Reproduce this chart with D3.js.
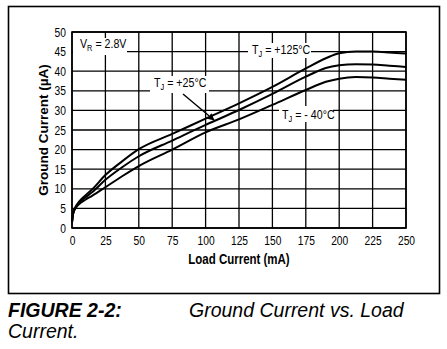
<!DOCTYPE html>
<html>
<head>
<meta charset="utf-8">
<script src="https://cdn.jsdelivr.net/npm/d3@7"></script>
<style>
  html, body { margin: 0; padding: 0; background: #fff; }
  svg { display: block; }
  text { font-family: "Liberation Sans", Arial, sans-serif; }
</style>
</head>
<body>
<svg id="chart" width="447" height="349"></svg>
<script>
// Load current (mA) sample points along each curve
const loadCurrent = [0, 1, 3, 5, 10, 15, 25, 37.5, 50, 75, 100, 125, 150, 175, 190, 200, 212.5, 225, 237.5, 250];
// Ground current (µA) at each junction temperature
const groundTj125 = [1.5, 4.0, 5.6, 6.6, 8.3, 9.8, 13.5, 17.0, 20.1, 24.0, 27.9, 31.8, 36.0, 40.7, 43.3, 44.6, 45.0, 45.0, 44.8, 44.5];
const groundTj25  = [1.5, 3.9, 5.4, 6.3, 7.8, 9.1, 12.3, 15.5, 18.3, 22.3, 26.3, 30.1, 34.2, 38.6, 40.8, 41.5, 41.8, 41.7, 41.4, 41.1];
const groundTjM40 = [1.5, 3.8, 5.2, 6.0, 7.2, 8.2, 10.4, 13.2, 15.8, 20.0, 24.4, 27.7, 31.4, 35.2, 37.3, 38.1, 38.5, 38.4, 38.1, 37.8];

const xTicks = [0, 25, 50, 75, 100, 125, 150, 175, 200, 225, 250];
const yTicks = [0, 5, 10, 15, 20, 25, 30, 35, 40, 45, 50];

const series = [groundTj125, groundTj25, groundTjM40];

const svg = d3.select("#chart");
const plot = { left: 72, right: 406, top: 32, bottom: 228 };
const condense = 0.82;   // horizontal squeeze for the narrow lettering

const x = d3.scaleLinear().domain([0, 250]).range([plot.left, plot.right]);
const y = d3.scaleLinear().domain([0, 50]).range([plot.bottom, plot.top]);

// outer frame
svg.append("rect")
  .attr("x", 8.5).attr("y", 6.5).attr("width", 431).attr("height", 287)
  .attr("fill", "none").attr("stroke", "#000").attr("stroke-width", 1.6);

// grid
const grid = svg.append("g").attr("stroke", "#000").attr("stroke-width", 1.3);
grid.selectAll("line.v").data(xTicks).join("line")
  .attr("x1", d => x(d)).attr("x2", d => x(d))
  .attr("y1", plot.top).attr("y2", plot.bottom);
grid.selectAll("line.h").data(yTicks).join("line")
  .attr("x1", plot.left).attr("x2", plot.right)
  .attr("y1", d => y(d)).attr("y2", d => y(d));

// axes: tick labels only, no tick marks
const xAxis = d3.axisBottom(x).tickValues(xTicks).tickSize(0).tickPadding(0);
const gx = svg.append("g").attr("transform", `translate(0,${plot.bottom + 8})`).call(xAxis);
gx.select(".domain").remove();
gx.selectAll("text").attr("font-size", 12.5).attr("fill", "#000")
  .attr("font-family", "Liberation Sans, Arial, sans-serif")
  .attr("transform", `scale(${condense},1)`);

const yAxis = d3.axisLeft(y).tickValues(yTicks).tickSize(0).tickPadding(0);
const gy = svg.append("g").attr("transform", `translate(${plot.left - 6},0)`).call(yAxis);
gy.select(".domain").remove();
gy.selectAll("text").attr("font-size", 12.5).attr("fill", "#000")
  .attr("font-family", "Liberation Sans, Arial, sans-serif")
  .attr("transform", `scale(${condense},1)`);

// plot border
svg.append("rect")
  .attr("x", plot.left).attr("y", plot.top)
  .attr("width", plot.right - plot.left).attr("height", plot.bottom - plot.top)
  .attr("fill", "none").attr("stroke", "#000").attr("stroke-width", 1.6);

// curves
const line = d3.line()
  .x((d, i) => x(loadCurrent[i]))
  .y(d => y(d))
  .curve(d3.curveMonotoneX);
svg.append("g").selectAll("path").data(series).join("path")
  .attr("d", line)
  .attr("fill", "none").attr("stroke", "#000").attr("stroke-width", 2);

// labels with white backing over the grid
function label(px, py, main, sub, rest, gap) {
  svg.append("rect")
    .attr("x", gap[0]).attr("y", gap[1]).attr("width", gap[2]).attr("height", gap[3])
    .attr("fill", "#fff");
  const t = svg.append("text")
    .attr("transform", `translate(${px},${py}) scale(${condense},1)`)
    .attr("font-size", 13).attr("fill", "#000");
  t.append("tspan").text(main);
  t.append("tspan").attr("font-size", 9).attr("dy", 2.5).text(sub);
  t.append("tspan").attr("dy", -2.5).text(rest);
}
label(80, 48, "V", "R", " = 2.8V", [73, 38, 54, 17]);
label(252, 54, "T", "J", " = +125°C", [248, 43, 63, 15]);
label(154, 87, "T", "J", " = +25°C", [150, 76, 59, 17]);
label(282, 119, "T", "J", " = - 40°C", [279, 106, 54, 16]);

// arrow to the +25°C curve
svg.append("defs").append("marker")
  .attr("id", "arrowHead").attr("viewBox", "0 0 10 10")
  .attr("refX", 9).attr("refY", 5)
  .attr("markerWidth", 7).attr("markerHeight", 7)
  .attr("markerUnits", "userSpaceOnUse")
  .attr("orient", "auto")
  .append("path").attr("d", "M0,0 L10,5 L0,10 Z").attr("fill", "#000");
svg.append("line")
  .attr("x1", 183).attr("y1", 94).attr("x2", 214).attr("y2", 120)
  .attr("stroke", "#000").attr("stroke-width", 1.4)
  .attr("marker-end", "url(#arrowHead)");

// axis titles
svg.append("text")
  .attr("transform", `translate(${(plot.left + plot.right) / 2},264) scale(${condense},1)`)
  .attr("text-anchor", "middle").attr("font-size", 14).attr("font-weight", "bold")
  .text("Load Current (mA)");
svg.append("text")
  .attr("transform", `translate(48,${(plot.top + plot.bottom) / 2}) rotate(-90)`)
  .attr("text-anchor", "middle").attr("font-size", 13.5).attr("font-weight", "bold")
  .text("Ground Current (µA)");

// figure caption
const cap = svg.append("text").attr("font-size", 19.5).attr("fill", "#000");
cap.append("tspan").attr("x", 8).attr("y", 317)
  .attr("font-weight", "bold").attr("font-style", "italic").text("FIGURE 2-2:");
cap.append("tspan").attr("x", 189).attr("y", 317)
  .attr("font-style", "italic").text("Ground Current vs. Load");
svg.append("text").attr("font-size", 19.5).attr("font-style", "italic")
  .attr("x", 8).attr("y", 338).text("Current.");
</script>
</body>
</html>
